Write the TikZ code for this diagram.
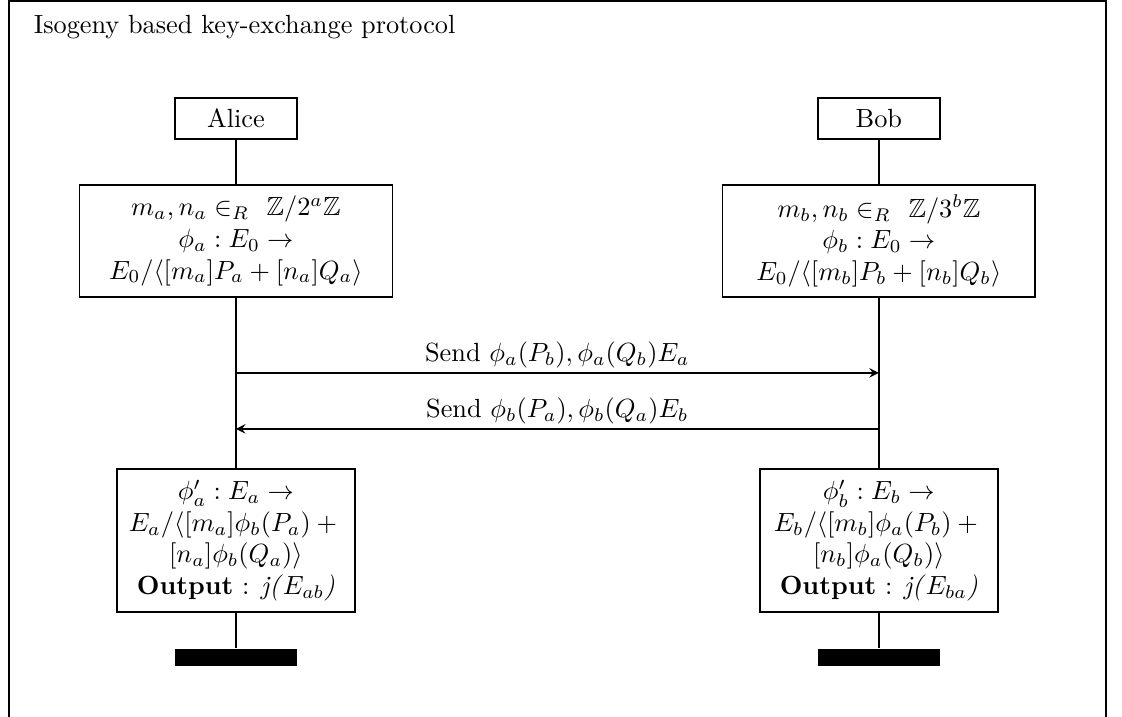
\documentclass[tikz,border=0pt]{standalone}
\usepackage{amssymb}
\usepackage{tikz}
\usetikzlibrary{arrows}
\usetikzlibrary{positioning}

\begin{document}
\begin{tikzpicture}[>=stealth,semithick,
party/.style={draw,rectangle,minimum width=46.4pt,minimum height=15.6pt,inner sep=2pt},
calcbox/.style={draw,rectangle,align=center,inner sep=2pt,minimum width=#1},
calcbox/.default=119pt,
endbar/.style={fill,rectangle,inner sep=0pt,minimum width=1.631cm,minimum height=0.227cm}]

\useasboundingbox (0,0) rectangle (15,-9.583);
\draw (0.12,-9.583) -- (0.12,-0.013) -- (14.783,-0.013) -- (14.783,-9.583);

\node [anchor=base west,inner sep=0pt] (title) at (0.441,-0.454) {Isogeny based key-exchange protocol};

\node [party] (alice) at (3.154,-1.584) {Alice};
\node [party] (bob) at (11.749,-1.584) {Bob};

\node [calcbox,minimum height=42.6pt] (acalc) at (3.154,-3.221) {$m_a, n_a \in_R$~ $\mathbb{Z}/2^a\mathbb{Z}$\\ $\phi_a : E_0 \rightarrow$\\ $E_0/\langle[m_a]P_a + [n_a]Q_a\rangle$};
\node [calcbox,minimum height=42.6pt] (bcalc) at (11.749,-3.221) {$m_b, n_b \in_R$~ $\mathbb{Z}/3^b\mathbb{Z}$\\ $\phi_b : E_0 \rightarrow$\\ $E_0/\langle[m_b]P_b + [n_b]Q_b\rangle$};

\coordinate (a1) at (3.154,-4.985);
\coordinate (b1) at (11.749,-4.985);
\coordinate (a2) at (3.154,-5.734);
\coordinate (b2) at (11.749,-5.734);

\node [calcbox=90.5pt,minimum height=54.4pt] (aout) at (3.154,-7.224) {$\phi'_a : E_a \rightarrow$\\ $E_a/\langle[m_a]\phi_b(P_a) +{}$\\ $[n_a]\phi_b(Q_a)\rangle$\\ \textbf{Output} : \textit{j(}$E_{ab}$\textit{)}};
\node [calcbox=90.5pt,minimum height=54.4pt] (bout) at (11.749,-7.224) {$\phi'_b : E_b \rightarrow$\\ $E_b/\langle[m_b]\phi_a(P_b) +{}$\\ $[n_b]\phi_a(Q_b)\rangle$\\ \textbf{Output} : \textit{j(}$E_{ba}$\textit{)}};

\node [endbar] (aend) at (3.154,-8.788) {};
\node [endbar] (bend) at (11.749,-8.788) {};

% life lines
\draw (alice) -- (acalc);
\draw (acalc) -- (aout);
\draw (aout) -- (aend);
\draw (bob) -- (bcalc);
\draw (bcalc) -- (bout);
\draw (bout) -- (bend);

% messages
\draw [->] (a1) -- node [above,inner sep=1.5pt] {Send $\phi_a(P_b), \phi_a(Q_b) E_a$} (b1);
\draw [->] (b2) -- node [above,inner sep=1.5pt] {Send $\phi_b(P_a), \phi_b(Q_a) E_b$} (a2);
\end{tikzpicture}
\end{document}
